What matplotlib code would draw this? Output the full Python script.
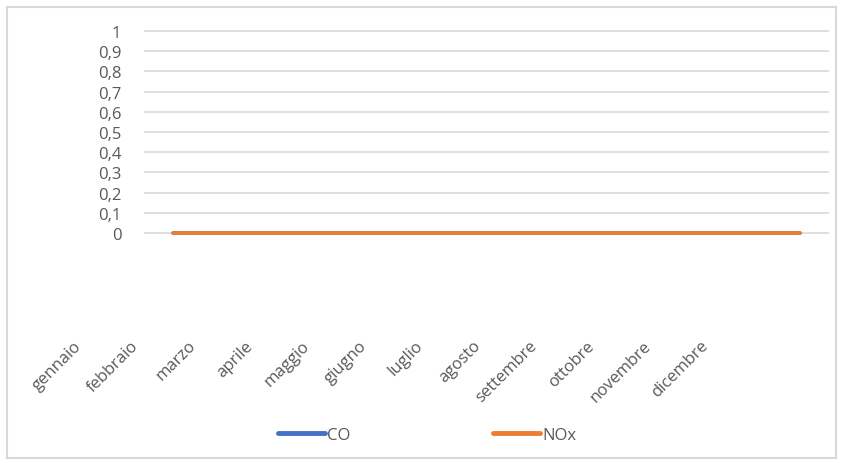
"""Monthly CO / NOx line chart"""

import matplotlib.pyplot as plt
from matplotlib.lines import Line2D
from matplotlib.patches import Rectangle

months = ['gennaio', 'febbraio', 'marzo', 'aprile', 'maggio', 'giugno',
          'luglio', 'agosto', 'settembre', 'ottobre', 'novembre', 'dicembre']
co = [0, 0, 0, 0, 0, 0, 0, 0, 0, 0, 0, 0]
nox = [0, 0, 0, 0, 0, 0, 0, 0, 0, 0, 0, 0]
y_ticks = [0, 0.1, 0.2, 0.3, 0.4, 0.5, 0.6, 0.7, 0.8, 0.9, 1]
y_labels = ['0', '0,1', '0,2', '0,3', '0,4', '0,5', '0,6', '0,7', '0,8', '0,9', '1']

text_c = '#595959'
grid_c = '#d9d9d9'
blue = '#4472C4'
orange = '#ED7D31'
fs = 12

plt.rcParams['font.family'] = ['Open Sans', 'DejaVu Sans']

W, H = 843, 464
fig = plt.figure(figsize=(W / 100, H / 100), dpi=100)
fig.set_facecolor('w')

# frame around the whole chart
fig.patches.append(Rectangle((7 / W, 1 - 459 / H), 829 / W, 451 / H,
                             transform=fig.transFigure, fill=False,
                             edgecolor=grid_c, lw=1.5))

ax = fig.add_axes([145 / W, 1 - 234 / H, (828 - 145) / W, (234 - 32) / H])
ax.set_xlim(-0.5, len(months) - 0.5)
ax.set_ylim(0, 1)
for s in ax.spines.values():
    s.set_visible(False)

for t in y_ticks:
    ax.axhline(t, color=grid_c, lw=1.2, zorder=0, clip_on=False)

ax.set_yticks(y_ticks)
ax.set_yticklabels(y_labels)
ax.tick_params(axis='y', length=0, pad=17, labelsize=fs, labelcolor=text_c)
ax.set_xticks([])

ax.plot(range(len(months)), co, color=blue, lw=2.6, solid_capstyle='round',
        clip_on=False, zorder=3)
ax.plot(range(len(months)), nox, color=orange, lw=2.6, solid_capstyle='round',
        clip_on=False, zorder=4)

# category labels sit well below the zero line, shifted left
for i, m in enumerate(months):
    ax.annotate(m, xy=(i, 0), xycoords=('data', 'axes fraction'),
                xytext=(-94, -110), textcoords='offset pixels',
                rotation=45, rotation_mode='anchor', ha='right', va='center',
                fontsize=fs, color=text_c, annotation_clip=False)

handles = [Line2D([], [], color=blue, lw=3.5, solid_capstyle='round'),
           Line2D([], [], color=orange, lw=3.5, solid_capstyle='round')]
fig.legend(handles, ['CO', 'NOx'], loc='center', ncol=2,
           bbox_to_anchor=(427 / W, 1 - 436 / H), frameon=False,
           fontsize=fs, labelcolor=text_c, handlelength=2.8,
           handletextpad=0.12, columnspacing=8.6)

fig.savefig('out.png', dpi=100, facecolor='w')
